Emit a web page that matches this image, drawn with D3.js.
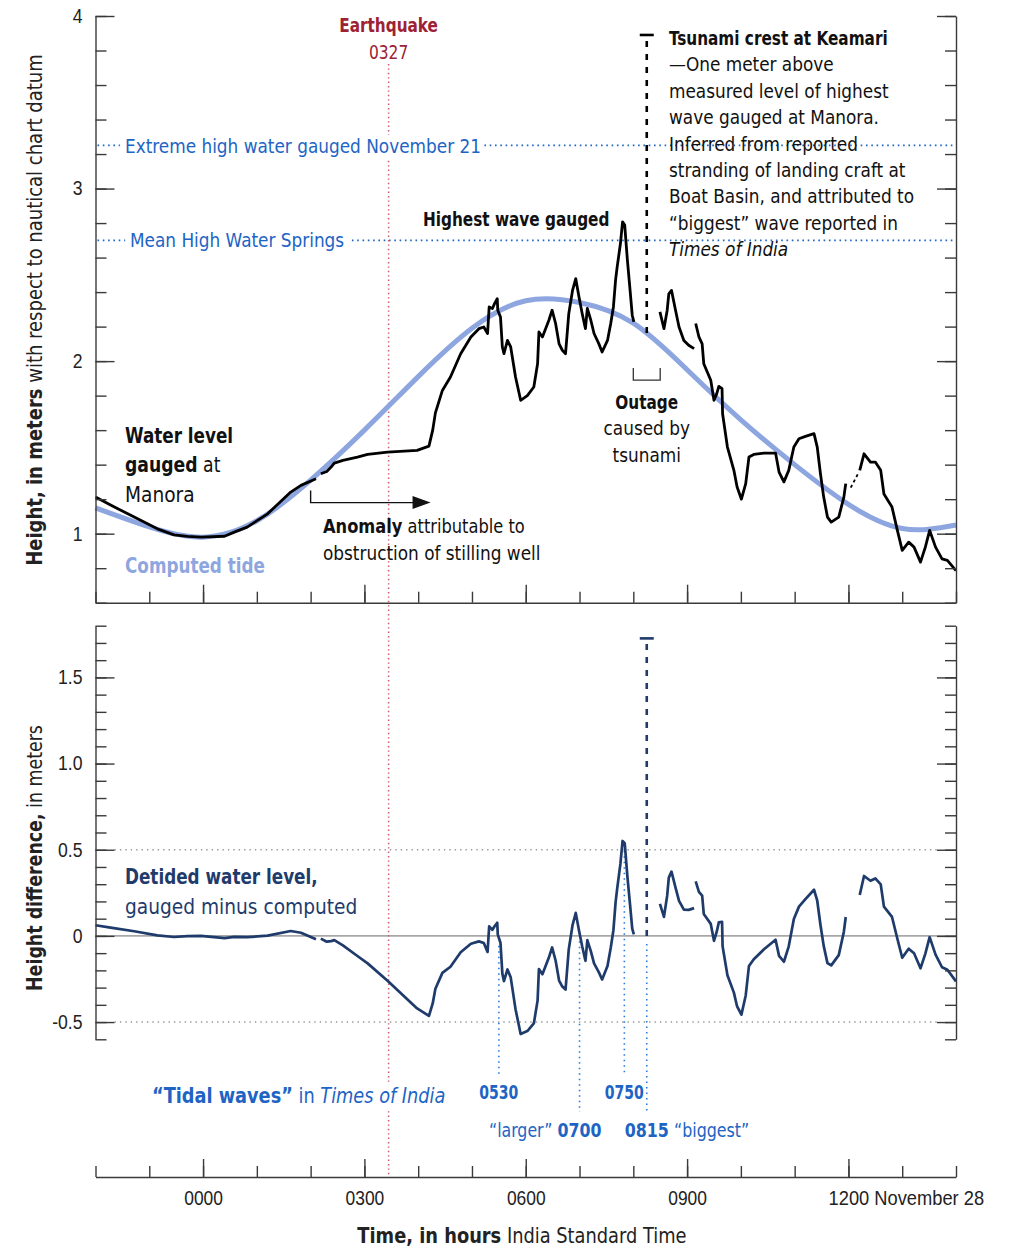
<!DOCTYPE html>
<html>
<head>
<meta charset="utf-8">
<script src="https://cdn.jsdelivr.net/npm/d3@7"></script>
<style>
  body { margin: 0; background: #fff; }
  svg { display: block; font-family: 'DejaVu Sans Condensed', 'DejaVu Sans', sans-serif; }
  svg text { white-space: pre; }
  .axis path, .axis line { stroke: #3a3a3a; stroke-width: 1.4; }
  .axis text { font-size: 20px; fill: #222; font-family: inherit; }
</style>
</head>
<body>
<div id="chart"></div>
<script>
// hours from midnight, November 28 India Standard Time (negative = November 27)
const tideHours = [-2, -1, 0, 1, 2, 3, 4, 5, 6, 7, 8, 9, 10, 11, 12, 13, 14]
const tideMeters = [1.15, 1.04, 0.98, 1.075, 1.31, 1.60, 1.91, 2.19, 2.35, 2.34, 2.22, 1.95, 1.66, 1.40, 1.17, 1.03, 1.05]

// water level gauged at Manora, null = break in the record
const gaugedHours = [
  -2.0, -1.72, -1.28, -0.85, -0.54, -0.29, -0.04, 0.4, 0.58, 0.82, 1.2, 1.63, 1.82, 2.1, null,
  2.19, 2.3, 2.38, 2.44, 2.6, 2.87, 3.06, 3.43, 3.98, 4.2, 4.27, 4.32, 4.45, 4.6, 4.79, 4.98,
  5.13, 5.22, 5.29, 5.32, 5.38, 5.42, 5.47, 5.48, 5.53, 5.565, 5.595, 5.66, 5.72, 5.81, 5.905,
  6.03, 6.15, 6.22, 6.245, 6.31, 6.43, 6.49, 6.555, 6.62, 6.68, 6.74, 6.8, 6.87, 6.93, 6.99,
  7.05, 7.11, 7.145, 7.21, 7.27, 7.36, 7.42, 7.52, 7.58, 7.63, 7.67, 7.7, 7.76, 7.8, 7.84,
  7.89, 7.94, 7.98, 8.01, null,
  8.495, 8.57, 8.63, 8.66, 8.71, 8.785, 8.85, 8.94, 9.03, 9.13, null,
  9.16, 9.22, 9.28, 9.31, 9.44, 9.5, 9.55, 9.59, 9.65, 9.66, 9.75, 9.87, 9.93, 10.01, 10.09,
  10.15, 10.24, 10.43, 10.645, 10.71, 10.8, 10.89, 10.985, 11.08, 11.2, 11.36, 11.42, 11.48,
  11.54, 11.61, 11.68, 11.82, 11.915, 11.95, null,
  12.21, 12.29, 12.41, 12.5, 12.6, 12.66, 12.81, 12.91, 13.0, 13.12, 13.22, 13.34, 13.43,
  13.51, 13.62, 13.74, 13.84, 14.0
]
const gaugedMeters = [
  1.212, 1.166, 1.096, 1.028, 0.993, 0.984, 0.98, 0.985, 1.009, 1.038, 1.115, 1.241, 1.28, 1.318, null,
  1.347, 1.36, 1.386, 1.409, 1.425, 1.444, 1.459, 1.473, 1.483, 1.507, 1.6, 1.7, 1.83, 1.908, 2.043, 2.14,
  2.188, 2.198, 2.16, 2.314, 2.305, 2.333, 2.362, 2.295, 2.256, 2.082, 2.043, 2.12, 2.082, 1.908, 1.773,
  1.8, 1.85, 1.985, 2.169, 2.14, 2.237, 2.295, 2.218, 2.1, 2.063, 2.043, 2.275, 2.41, 2.478, 2.372,
  2.275, 2.188, 2.305, 2.237, 2.16, 2.1, 2.053, 2.12, 2.218, 2.314, 2.469, 2.546, 2.68, 2.807, 2.788,
  2.585, 2.41, 2.266, 2.227, null,
  2.285, 2.188, 2.295, 2.39, 2.41, 2.295, 2.198, 2.12, 2.092, 2.072, null,
  2.218, 2.14, 2.1, 1.985, 1.889, 1.773, 1.81, 1.854, 1.84, 1.695, 1.502, 1.367, 1.27, 1.2, 1.29,
  1.444, 1.459, 1.467, 1.467, 1.357, 1.3, 1.367, 1.502, 1.55, 1.564, 1.58, 1.502, 1.347,
  1.212, 1.096, 1.067, 1.096, 1.212, 1.29, null,
  1.367, 1.463, 1.415, 1.415, 1.367, 1.23, 1.154, 1.019, 0.903, 0.951, 0.922, 0.835, 0.922,
  1.019, 0.922, 0.854, 0.845, 0.786
]

const earthquakeHour = 3.45
const extremeHighMeters = 3.25
const meanHighSpringsMeters = 2.70
const crestHour = 8.25
const crestMeters = 3.89
const outageHours = [8.0, 8.5]

const tidalWaveHours = [5.5, 7.0, 7.8333, 8.25]
const tidalWaveNames = ['0530', '0700', '0750', '0815']
const tidalWaveRows = [1, 2, 1, 2]

const topTickValues = [1, 2, 3, 4]
const topTickLabels = ['1', '2', '3', '4']
const bottomTickValues = [-0.5, 0, 0.5, 1.0, 1.5]
const bottomTickLabels = ['-0.5', '0', '0.5', '1.0', '1.5']
const timeTickHours = [0, 3, 6, 9, 12]
const timeTickLabels = ['0000', '0300', '0600', '0900', '1200']

const blue = '#1d64c4'
const navy = '#1f3b6b'
const tideBlue = '#8ea6e0'
const quakeRed = '#9d2235'

const width = 1014
const height = 1248

const svg = d3
  .select('#chart')
  .append('svg')
  .attr('width', width)
  .attr('height', height)

const x = d3.scaleLinear().domain([-2, 14]).range([95.5, 956])
const yTop = d3.scaleLinear().domain([0.6, 4]).range([602.7, 16])
const yBot = d3.scaleLinear().domain([-0.6, 1.8]).range([1039.3, 625.7])
const timeAxisY = 1177

// control points of the natural spline, as d3.curveNatural builds them
function naturalControls(v) {
  const n = v.length - 1
  const a = new Array(n)
  const b = new Array(n)
  const r = new Array(n)
  a[0] = 0
  b[0] = 2
  r[0] = v[0] + 2 * v[1]
  for (let i = 1; i < n - 1; ++i) {
    a[i] = 1
    b[i] = 4
    r[i] = 4 * v[i] + 2 * v[i + 1]
  }
  a[n - 1] = 2
  b[n - 1] = 7
  r[n - 1] = 8 * v[n - 1] + v[n]
  for (let i = 1; i < n; ++i) {
    const m = a[i] / b[i - 1]
    b[i] -= m
    r[i] -= m * r[i - 1]
  }
  a[n - 1] = r[n - 1] / b[n - 1]
  for (let i = n - 2; i >= 0; --i) a[i] = (r[i] - a[i + 1]) / b[i]
  b[n - 1] = (v[n] + a[n - 1]) / 2
  for (let i = 0; i < n - 1; ++i) b[i] = 2 * v[i + 1] - a[i + 1]
  return [a, b]
}
const [tideC1, tideC2] = naturalControls(tideMeters)

// tide at any hour on the same curve that is drawn
function tideAt(t) {
  const n = tideHours.length
  let i = d3.bisectRight(tideHours, t) - 1
  i = Math.max(0, Math.min(n - 2, i))
  const s = (t - tideHours[i]) / (tideHours[i + 1] - tideHours[i])
  const u = 1 - s
  return (
    u * u * u * tideMeters[i] +
    3 * u * u * s * tideC1[i] +
    3 * u * s * s * tideC2[i] +
    s * s * s * tideMeters[i + 1]
  )
}

const tide = tideHours.map((h, i) => ({ hour: h, meters: tideMeters[i] }))
const gauged = gaugedHours.map((h, i) => ({ hour: h, meters: gaugedMeters[i] }))
const detided = gauged.map(d =>
  d.hour === null ? d : { hour: d.hour, meters: d.meters - tideAt(d.hour) }
)

function valueAt(series, t) {
  for (let i = 0; i < series.length - 1; i++) {
    const a = series[i]
    const b = series[i + 1]
    if (a.hour === null || b.hour === null) continue
    if (t >= a.hour && t <= b.hour) {
      return a.meters + ((t - a.hour) / (b.hour - a.hour)) * (b.meters - a.meters)
    }
  }
  return 0
}

// the original face is a condensed grotesque, so squeeze DejaVu a little
function squeeze(node, factor) {
  const w = node.getComputedTextLength()
  d3.select(node)
    .attr('textLength', w * factor)
    .attr('lengthAdjust', 'spacingAndGlyphs')
  return w * factor
}

function runFactor(str, bold) {
  const digits = /^[\d.\s-]+$/.test(str)
  return digits ? (bold ? 0.78 : 0.86) : bold ? 0.85 : 0.94
}

// one text per line, bold / italic runs as tspans, narrowed as a whole
function label(px, py, parts, opts = {}) {
  const { size = 20, fill = '#111', anchor = 'start', halo = false, rotate = false, centerOn = null } = opts
  const t = svg
    .append('text')
    .attr('font-size', size)
    .attr('fill', fill)
  const runs = parts.map(p => {
    const [str, style] = Array.isArray(p) ? p : [p, '']
    const bold = style.includes('b')
    const span = t
      .append('tspan')
      .text(str)
      .attr('font-weight', bold ? 700 : null)
      .attr('font-style', style.includes('i') ? 'italic' : null)
    return { w: span.node().getComputedTextLength(), f: runFactor(str, bold) }
  })
  const natural = d3.sum(runs, r => r.w)
  const k = d3.sum(runs, r => r.w * r.f) / natural
  let shift = 0
  if (centerOn !== null) {
    shift = -(d3.sum(runs.slice(0, centerOn), r => r.w) + runs[centerOn].w / 2)
  } else if (anchor === 'middle') shift = -natural / 2
  else if (anchor === 'end') shift = -natural
  t.attr('x', shift).attr(
    'transform',
    `translate(${px},${py})` + (rotate ? ' rotate(-90)' : '') + ` scale(${k},1)`
  )
  if (halo) {
    t.attr('stroke', '#fff')
      .attr('stroke-width', 14)
      .attr('stroke-linejoin', 'round')
      .attr('paint-order', 'stroke')
  }
  return t
}

// reference lines
svg
  .selectAll('.ref-line')
  .data([extremeHighMeters, meanHighSpringsMeters])
  .enter()
  .append('line')
  .attr('class', 'ref-line')
  .attr('x1', x(-2) + 2)
  .attr('x2', x(14))
  .attr('y1', d => yTop(d))
  .attr('y2', d => yTop(d))
  .attr('stroke', blue)
  .attr('stroke-width', 1.6)
  .attr('stroke-dasharray', '1.6,3.7')

svg
  .append('line')
  .attr('x1', x(-2))
  .attr('x2', x(14))
  .attr('y1', yBot(0))
  .attr('y2', yBot(0))
  .attr('stroke', '#a8a8a8')
  .attr('stroke-width', 1.6)

svg
  .selectAll('.half-line')
  .data([0.5, -0.5])
  .enter()
  .append('line')
  .attr('class', 'half-line')
  .attr('x1', x(-2) + 19)
  .attr('x2', x(14) - 19)
  .attr('y1', d => yBot(d))
  .attr('y2', d => yBot(d))
  .attr('stroke', '#999')
  .attr('stroke-width', 1.4)
  .attr('stroke-dasharray', '1.4,4')

// earthquake
svg
  .append('line')
  .attr('x1', x(earthquakeHour))
  .attr('x2', x(earthquakeHour))
  .attr('y1', 64)
  .attr('y2', timeAxisY - 2)
  .attr('stroke', '#cf5a6e')
  .attr('stroke-width', 1.5)
  .attr('stroke-dasharray', '1.4,3')

// tidal wave times down to their labels
const rowBaseline = { 1: 1099, 2: 1137 }
svg
  .selectAll('.wave-time')
  .data(tidalWaveHours)
  .enter()
  .append('line')
  .attr('class', 'wave-time')
  .attr('x1', d => x(d))
  .attr('x2', d => x(d))
  .attr('y1', d => yBot(valueAt(detided, d)) + 8)
  .attr('y2', (d, i) => rowBaseline[tidalWaveRows[i]] - 25)
  .attr('stroke', '#2a7ae0')
  .attr('stroke-width', 1.6)
  .attr('stroke-dasharray', '1.5,4')

// computed tide
svg
  .append('path')
  .datum(tide)
  .attr('fill', 'none')
  .attr('stroke', tideBlue)
  .attr('stroke-width', 5)
  .attr(
    'd',
    d3
      .line()
      .x(d => x(d.hour))
      .y(d => yTop(d.meters))
      .curve(d3.curveNatural)
  )

// gauged water level
const gaugedLine = d3
  .line()
  .defined(d => d.hour !== null)
  .x(d => x(d.hour))
  .y(d => yTop(d.meters))

svg
  .append('path')
  .datum(gauged)
  .attr('fill', 'none')
  .attr('stroke', '#000')
  .attr('stroke-width', 2.8)
  .attr('stroke-linejoin', 'round')
  .attr('d', gaugedLine)

// short dashed bridge in the last break
const breakIdx = gaugedHours.lastIndexOf(null)
svg
  .append('line')
  .attr('x1', x(gaugedHours[breakIdx - 1]) + 5)
  .attr('y1', yTop(gaugedMeters[breakIdx - 1]) + 4)
  .attr('x2', x(gaugedHours[breakIdx + 1]) - 1)
  .attr('y2', yTop(gaugedMeters[breakIdx + 1]) + 2)
  .attr('stroke', '#000')
  .attr('stroke-width', 1.8)
  .attr('stroke-dasharray', '3,3')

// detided level
svg
  .append('path')
  .datum(detided)
  .attr('fill', 'none')
  .attr('stroke', navy)
  .attr('stroke-width', 2.7)
  .attr('stroke-linejoin', 'round')
  .attr(
    'd',
    d3
      .line()
      .defined(d => d.hour !== null)
      .x(d => x(d.hour))
      .y(d => yBot(d.meters))
  )

// tsunami crest at Keamari
const crestTide = tideAt(crestHour)
function crestMark(y, from, to, color) {
  svg
    .append('line')
    .attr('x1', x(crestHour))
    .attr('x2', x(crestHour))
    .attr('y1', y(from))
    .attr('y2', y(to))
    .attr('stroke', color)
    .attr('stroke-width', 2.6)
    .attr('stroke-dasharray', '6,7')
  svg
    .append('line')
    .attr('x1', x(crestHour) - 7)
    .attr('x2', x(crestHour) + 7)
    .attr('y1', y(to))
    .attr('y2', y(to))
    .attr('stroke', color)
    .attr('stroke-width', 2.6)
}
crestMark(yTop, crestTide, crestMeters, '#000')
crestMark(yBot, 0, crestMeters - crestTide, navy)

// outage bracket
svg
  .append('path')
  .attr('fill', 'none')
  .attr('stroke', '#333')
  .attr('stroke-width', 1.3)
  .attr(
    'd',
    `M${x(outageHours[0])},${yTop(1.96)}V${yTop(1.89)}H${x(outageHours[1])}V${yTop(1.96)}`
  )

// anomaly arrow
const arrowEnd = x(4.23)
svg
  .append('path')
  .attr('fill', 'none')
  .attr('stroke', '#111')
  .attr('stroke-width', 1.4)
  .attr('d', `M${x(2.0)},${yTop(1.25)}V${yTop(1.18)}H${arrowEnd - 10}`)
svg
  .append('path')
  .attr('fill', '#111')
  .attr(
    'd',
    `M${arrowEnd},${yTop(1.18)}L${arrowEnd - 18},${yTop(1.18) - 6.5}L${arrowEnd - 18},${yTop(1.18) + 6.5}Z`
  )

// axes
function valueAxes(y, minorTicks, majorTicks, majorLabels) {
  const left = svg.append('g').attr('class', 'axis').attr('transform', `translate(${x(-2)},0)`)
  left.call(d3.axisLeft(y).tickValues(minorTicks).tickSize(-11).tickSizeOuter(0).tickFormat(''))
  const leftMajor = svg.append('g').attr('class', 'axis').attr('transform', `translate(${x(-2)},0)`)
  leftMajor.call(
    d3
      .axisLeft(y)
      .tickValues(majorTicks)
      .tickSize(-19)
      .tickSizeOuter(0)
      .tickPadding(13)
      .tickFormat((d, i) => majorLabels[i])
  )
  leftMajor.select('.domain').remove()
  leftMajor.selectAll('.tick text').each(function() {
    squeeze(this, 0.88)
  })

  const right = svg.append('g').attr('class', 'axis').attr('transform', `translate(${x(14)},0)`)
  right.call(d3.axisRight(y).tickValues(minorTicks).tickSize(-11).tickSizeOuter(0).tickFormat(''))
  const rightMajor = svg.append('g').attr('class', 'axis').attr('transform', `translate(${x(14)},0)`)
  rightMajor.call(d3.axisRight(y).tickValues(majorTicks).tickSize(-19).tickSizeOuter(0).tickFormat(''))
  rightMajor.select('.domain').remove()
}

const topMinor = d3.range(6, 41, 2).map(d => d / 10)
const bottomMinor = d3.range(-6, 19, 1).map(d => d / 10)
valueAxes(yTop, topMinor, topTickValues, topTickLabels)
valueAxes(yBot, bottomMinor, bottomTickValues, bottomTickLabels)

const hourTicks = d3.range(-2, 15)
function timeAxis(yPos, withLabels) {
  const g = svg.append('g').attr('class', 'axis').attr('transform', `translate(0,${yPos})`)
  g.call(d3.axisBottom(x).tickValues(hourTicks).tickSize(-11).tickSizeOuter(0).tickFormat(''))
  const major = svg.append('g').attr('class', 'axis').attr('transform', `translate(0,${yPos})`)
  major.call(
    d3
      .axisBottom(x)
      .tickValues(timeTickHours)
      .tickSize(-18)
      .tickSizeOuter(0)
      .tickPadding(14)
      .tickFormat((d, i) => (withLabels ? timeTickLabels[i] : ''))
  )
  major.select('.domain').remove()
  return major
}
timeAxis(yTop(0.6), false)
const timeMajor = timeAxis(timeAxisY, true)

timeMajor.selectAll('.tick text').each(function(d) {
  const text = d3.select(this)
  if (d === 12) {
    // "1200 November 28": 1200 stays centred on its tick
    const w = this.getComputedTextLength()
    text.append('tspan').text(' November 28')
    const total = this.getComputedTextLength()
    const k = (w * 0.87 + (total - w) * 0.93) / total
    text
      .attr('text-anchor', 'start')
      .attr('x', -w / 2)
      .attr('transform', `scale(${k},1)`)
  } else {
    squeeze(this, 0.87)
  }
})

// text
label(x(earthquakeHour), 32, [['Earthquake', 'b']], { fill: quakeRed, anchor: 'middle' })
label(x(earthquakeHour), 59, ['0327'], { fill: quakeRed, anchor: 'middle' })

label(125, 153, ['Extreme high water gauged November 21'], { fill: blue, halo: true })
label(130, 247, ['Mean High Water Springs'], { fill: blue, halo: true })

label(423, 226, [['Highest wave gauged', 'b']])

const crestLines = [
  [['Tsunami crest at Keamari', 'b']],
  ['—One meter above'],
  ['measured level of highest'],
  ['wave gauged at Manora.'],
  ['Inferred from reported'],
  ['stranding of landing craft at'],
  ['Boat Basin, and attributed to'],
  ['“biggest” wave reported in'],
  [['Times of India', 'i']]
]
crestLines.forEach((parts, i) => label(669, 45 + i * 26.4, parts))

label(125, 443, [['Water level', 'b']], { size: 22 })
label(125, 472, [['gauged', 'b'], ' at'], { size: 22 })
label(125, 502, ['Manora'], { size: 22 })
label(125, 573, [['Computed tide', 'b']], { size: 22, fill: tideBlue })

label(323, 533, [['Anomaly', 'b'], ' attributable to'])
label(323, 560, ['obstruction of stilling well'])

label(x(crestHour), 409, [['Outage', 'b']], { anchor: 'middle' })
label(x(crestHour), 435, ['caused by'], { anchor: 'middle' })
label(x(crestHour), 462, ['tsunami'], { anchor: 'middle' })

label(125, 884, [['Detided water level,', 'b']], { size: 22, fill: navy })
label(125, 914, ['gauged minus computed'], { size: 22, fill: navy })

label(152, 1103, [['“Tidal waves”', 'b'], ' in ', ['Times of India', 'i']], {
  size: 22,
  fill: blue,
  halo: true
})

tidalWaveHours.forEach((h, i) => {
  const row = tidalWaveRows[i]
  const name = tidalWaveNames[i]
  if (name === '0700') {
    label(x(h), rowBaseline[row], ['“larger” ', [name, 'b']], { fill: blue, centerOn: 1 })
  } else if (name === '0815') {
    label(x(h), rowBaseline[row], [[name, 'b'], ' “biggest”'], { fill: blue, centerOn: 0 })
  } else {
    label(x(h), rowBaseline[row], [[name, 'b']], { fill: blue, anchor: 'middle' })
  }
})

label(522, 1243, [['Time, in hours', 'b'], ' India Standard Time'], { size: 22, anchor: 'middle', fill: '#222' })

label(42, 310, [['Height, in meters', 'b'], ' with respect to nautical chart datum'], {
  size: 22,
  anchor: 'middle',
  rotate: true,
  fill: '#222'
})
label(42, 858, [['Height difference,', 'b'], ' in meters'], {
  size: 22,
  anchor: 'middle',
  rotate: true,
  fill: '#222'
})
</script>
</body>
</html>
